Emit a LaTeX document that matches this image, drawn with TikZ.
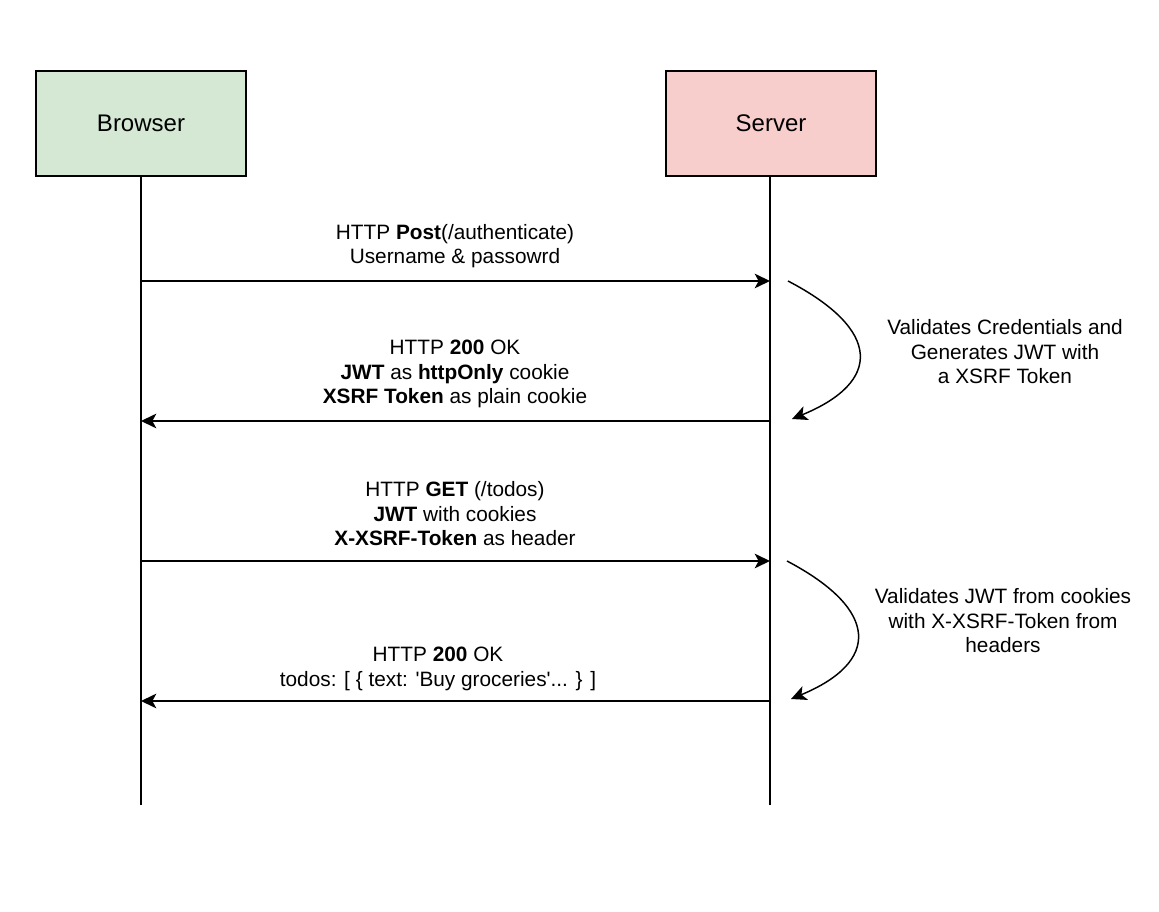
\documentclass[tikz,border=0pt]{standalone}
\usepackage{fontspec}
\setmainfont{Liberation Sans}
\usetikzlibrary{arrows.meta}
\definecolor{bgreen}{HTML}{D5E8D4}
\definecolor{sred}{HTML}{F8CECC}
\begin{document}
\begin{tikzpicture}[x=0.75pt,y=-0.75pt,
  actor/.style={draw=black,line width=1.1pt,minimum width=157.5pt,minimum height=78.75pt,inner sep=0pt,font=\fontsize{18}{21}\selectfont},
  life/.style={line width=1.1pt},
  msg/.style={line width=1.1pt,-{Stealth[length=11.5pt,width=11pt,inset=3pt]}},
  loopy/.style={line width=1.1pt,-{Stealth[length=11.5pt,width=11pt,inset=3pt]}},
  lbl/.style={align=center,inner sep=0pt,font=\fontsize{15.6}{18.4}\selectfont}]
\useasboundingbox (0,0) rectangle (1159,912);
\fill[white] (0,0) rectangle (1159,912);
\node[actor,fill=bgreen] (browser) at (141,123.5) {\raisebox{-1.5pt}{Browser}};
\node[actor,fill=sred] (server) at (771,123.5) {\raisebox{-1.5pt}{Server}};
\coordinate (btop) at (141,176);
\coordinate (stop) at (770,176);
\coordinate (bend) at (141,805);
\coordinate (send) at (770,805);
\draw[life] (btop) -- (bend);
\draw[life] (stop) -- (send);
% message endpoints
\coordinate (b1) at (141,281); \coordinate (s1) at (770,281);
\coordinate (b2) at (141,421); \coordinate (s2) at (770,421);
\coordinate (b3) at (141,561); \coordinate (s3) at (770,561);
\coordinate (b4) at (141,701); \coordinate (s4) at (770,701);
\draw[msg] (b1) -- (s1);
\draw[msg] (s2) -- (b2);
\draw[msg] (b3) -- (s3);
\draw[msg] (s4) -- (b4);
% labels
\node[lbl] (l1) at (455,246) {HTTP \textbf{Post}(/authenticate)\\Username \& passowrd};
\node[lbl] (l2) at (455,374) {HTTP \textbf{200} OK\\\textbf{JWT} as \textbf{httpOnly} cookie\\\textbf{XSRF Token} as plain cookie};
\node[lbl] (l3) at (455,514) {HTTP \textbf{GET} (/todos)\\\textbf{JWT} with cookies\\\textbf{X-XSRF-Token} as header};
\node[lbl] (l4) at (438,669) {HTTP \textbf{200} OK\\todos: [ \{ text: \textquotesingle Buy groceries\textquotesingle... \} ]};
% self processing arrows
\coordinate (c1s) at (788,281); \coordinate (c1e) at (792,419);
\coordinate (c2s) at (787,561); \coordinate (c2e) at (791,699);
\draw[loopy] (c1s) .. controls (882,330) and (882,382) .. (c1e);
\draw[loopy] (c2s) .. controls (880,610) and (880,662) .. (c2e);
\node[lbl] (n1) at (1005,352) {Validates Credentials and\\Generates JWT with\\a XSRF Token};
\node[lbl] (n2) at (1003,621) {Validates JWT from cookies\\with X-XSRF-Token from\\headers};
\end{tikzpicture}
\end{document}
